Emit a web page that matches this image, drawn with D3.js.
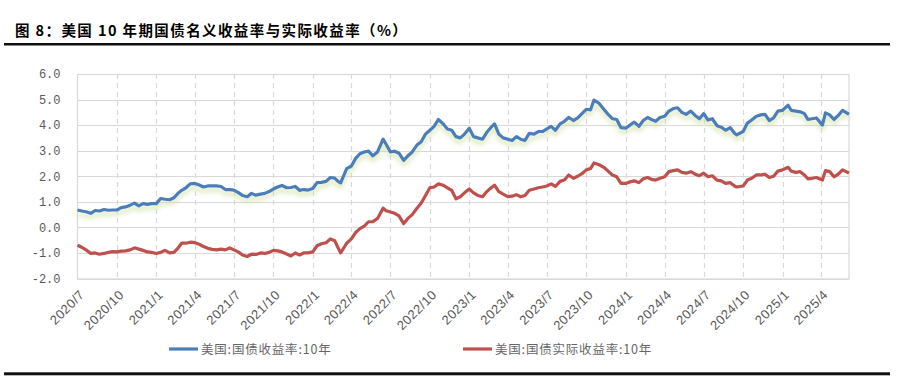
<!DOCTYPE html>
<html>
<head>
<meta charset="utf-8">
<title>美国10年期国债名义收益率与实际收益率</title>
<script src="https://cdn.jsdelivr.net/npm/d3@7"></script>
<style>
  body { margin: 0; background: #fff; }
  svg { display: block; }
</style>
</head>
<body>
<svg width="898" height="380"></svg>
<script>
// 日期（约每10天一个点）
var dates = [
  "2020-07-01","2020-07-11","2020-07-21","2020-08-01","2020-08-11","2020-08-21","2020-09-01","2020-09-11","2020-09-21",
  "2020-10-01","2020-10-11","2020-10-21","2020-11-01","2020-11-11","2020-11-21","2020-12-01","2020-12-11","2020-12-21",
  "2021-01-01","2021-01-11","2021-01-21","2021-02-01","2021-02-11","2021-02-21","2021-03-01","2021-03-11","2021-03-21",
  "2021-04-01","2021-04-11","2021-04-21","2021-05-01","2021-05-11","2021-05-21","2021-06-01","2021-06-11","2021-06-21",
  "2021-07-01","2021-07-11","2021-07-21","2021-08-01","2021-08-11","2021-08-21","2021-09-01","2021-09-11","2021-09-21",
  "2021-10-01","2021-10-11","2021-10-21","2021-11-01","2021-11-11","2021-11-21","2021-12-01","2021-12-11","2021-12-21",
  "2022-01-01","2022-01-11","2022-01-21","2022-02-01","2022-02-11","2022-02-21","2022-03-01","2022-03-07","2022-03-21",
  "2022-04-01","2022-04-11","2022-04-21","2022-05-01","2022-05-11","2022-05-21","2022-06-01","2022-06-14","2022-06-21",
  "2022-07-01","2022-07-11","2022-07-21","2022-08-01","2022-08-11","2022-08-21","2022-09-01","2022-09-11","2022-09-21",
  "2022-10-01","2022-10-11","2022-10-21","2022-11-01","2022-11-11","2022-11-21","2022-12-01","2022-12-11","2022-12-21",
  "2023-01-01","2023-01-11","2023-01-21","2023-02-01","2023-02-11","2023-02-21","2023-03-01","2023-03-11","2023-03-21",
  "2023-04-01","2023-04-11","2023-04-21","2023-05-01","2023-05-11","2023-05-21","2023-06-01","2023-06-11","2023-06-21",
  "2023-07-01","2023-07-11","2023-07-21","2023-08-01","2023-08-11","2023-08-21","2023-09-01","2023-09-11","2023-09-21",
  "2023-10-01","2023-10-11","2023-10-19","2023-10-31","2023-11-11","2023-11-21","2023-12-01","2023-12-11","2023-12-21",
  "2024-01-01","2024-01-11","2024-01-21","2024-02-01","2024-02-11","2024-02-21","2024-03-01","2024-03-11","2024-03-21",
  "2024-04-01","2024-04-11","2024-04-21","2024-05-01","2024-05-11","2024-05-21","2024-06-01","2024-06-11","2024-06-21",
  "2024-07-01","2024-07-11","2024-07-21","2024-08-01","2024-08-11","2024-08-21","2024-09-01","2024-09-11","2024-09-16",
  "2024-10-01","2024-10-11","2024-10-21","2024-11-01","2024-11-11","2024-11-21","2024-12-01","2024-12-11","2024-12-21",
  "2025-01-01","2025-01-14","2025-01-21","2025-02-01","2025-02-11","2025-02-21","2025-03-01","2025-03-11","2025-03-21",
  "2025-04-04","2025-04-11","2025-04-21","2025-05-01","2025-05-11","2025-05-21","2025-06-05"
];

// 美国:国债收益率:10年
var nominal = [
  0.68,0.64,0.61,0.55,0.66,0.64,0.70,0.67,0.68,
  0.68,0.77,0.80,0.87,0.95,0.84,0.93,0.90,0.93,
  0.93,1.13,1.10,1.08,1.16,1.34,1.45,1.55,1.70,
  1.72,1.66,1.58,1.62,1.62,1.62,1.60,1.48,1.48,
  1.46,1.36,1.25,1.20,1.33,1.26,1.30,1.33,1.40,
  1.50,1.58,1.64,1.55,1.56,1.60,1.45,1.48,1.46,
  1.52,1.75,1.76,1.80,1.95,1.93,1.80,1.74,2.30,
  2.40,2.70,2.88,2.95,2.98,2.80,2.95,3.45,3.25,
  2.95,2.98,2.90,2.62,2.80,2.95,3.22,3.35,3.65,
  3.80,3.95,4.22,4.05,3.85,3.80,3.55,3.50,3.65,
  3.88,3.55,3.50,3.45,3.72,3.92,4.05,3.65,3.50,
  3.45,3.40,3.55,3.45,3.40,3.68,3.65,3.75,3.75,
  3.85,3.95,3.80,4.05,4.15,4.30,4.18,4.28,4.45,
  4.62,4.60,4.98,4.85,4.62,4.42,4.25,4.22,3.90,
  3.88,4.00,4.12,3.95,4.18,4.30,4.22,4.15,4.30,
  4.35,4.55,4.65,4.68,4.50,4.42,4.55,4.38,4.25,
  4.45,4.20,4.25,3.98,3.92,3.80,3.90,3.68,3.62,
  3.75,4.08,4.20,4.35,4.40,4.42,4.18,4.28,4.55,
  4.58,4.78,4.58,4.55,4.52,4.45,4.22,4.25,4.28,
  4.00,4.48,4.40,4.22,4.38,4.58,4.42
];

// 美国:国债实际收益率:10年
var real = [
  -0.70,-0.78,-0.88,-1.02,-1.00,-1.05,-1.02,-0.98,-0.95,
  -0.96,-0.93,-0.92,-0.88,-0.80,-0.85,-0.90,-0.96,-0.98,
  -1.02,-0.98,-0.90,-1.00,-0.98,-0.80,-0.62,-0.62,-0.58,
  -0.60,-0.66,-0.75,-0.82,-0.86,-0.88,-0.85,-0.88,-0.80,
  -0.88,-0.96,-1.08,-1.14,-1.05,-1.06,-1.00,-1.02,-0.98,
  -0.90,-0.92,-0.96,-1.04,-1.12,-1.00,-1.08,-1.00,-1.00,
  -0.96,-0.72,-0.64,-0.60,-0.45,-0.52,-0.80,-1.00,-0.62,
  -0.45,-0.20,-0.05,0.05,0.22,0.22,0.35,0.75,0.65,
  0.60,0.55,0.45,0.15,0.35,0.50,0.75,0.95,1.25,
  1.55,1.58,1.70,1.65,1.55,1.45,1.12,1.20,1.35,
  1.50,1.35,1.25,1.20,1.40,1.55,1.65,1.40,1.30,
  1.20,1.22,1.28,1.20,1.25,1.45,1.50,1.55,1.58,
  1.62,1.70,1.60,1.80,1.85,2.05,1.92,2.00,2.10,
  2.25,2.30,2.52,2.45,2.35,2.20,2.05,1.98,1.72,
  1.72,1.78,1.82,1.75,1.90,1.95,1.88,1.85,1.92,
  1.98,2.18,2.22,2.25,2.15,2.12,2.18,2.08,2.02,
  2.12,1.98,2.02,1.85,1.82,1.72,1.75,1.62,1.58,
  1.62,1.85,1.92,2.05,2.05,2.08,1.95,2.00,2.20,
  2.25,2.35,2.20,2.15,2.18,2.05,1.90,1.92,1.95,
  1.85,2.22,2.18,1.98,2.08,2.25,2.12
];

var yTicks = [-2, -1, 0, 1, 2, 3, 4, 5, 6];
var xTickLabels = ["2020/7","2020/10","2021/1","2021/4","2021/7","2021/10","2022/1","2022/4","2022/7","2022/10",
  "2023/1","2023/4","2023/7","2023/10","2024/1","2024/4","2024/7","2024/10","2025/1","2025/4"];
var seriesNames = ["美国:国债收益率:10年", "美国:国债实际收益率:10年"];
var colors = ["#4a7ebb", "#c0504d"];

var svg = d3.select("svg");
var margin = {left: 77.5, right: 49, top: 74, bottom: 101.5};
var W = 898, H = 380;

var parse = d3.timeParse("%Y-%m-%d");
var parseTick = d3.timeParse("%Y/%m");
var x = d3.scaleTime()
  .domain([parse("2020-07-01"), parse("2025-06-05")])
  .range([margin.left, W - margin.right]);
var y = d3.scaleLinear().domain([-2, 6]).range([H - margin.bottom, margin.top]);

var font = "'Liberation Sans','Noto Sans CJK SC',sans-serif";
var cjk = "'Noto Sans CJK SC','Liberation Sans',sans-serif";

// 标题
svg.append("text")
  .attr("x", 15).attr("y", 36)
  .attr("font-family", cjk)
  .attr("font-size", 14.5)
  .attr("font-weight", "bold")
  .attr("letter-spacing", 1.4)
  .attr("fill", "#000")
  .text("图 8：美国 10 年期国债名义收益率与实际收益率（%）");
svg.append("rect").attr("x", 4).attr("y", 43).attr("width", 886).attr("height", 2.5).attr("fill", "#111");
svg.append("rect").attr("x", 4).attr("y", 372.3).attr("width", 886).attr("height", 3).attr("fill", "#111");

// 滤镜：名义收益率线下方的浅绿色光晕
var defs = svg.append("defs");
var f = defs.append("filter").attr("id", "glow")
  .attr("x", "-5%").attr("y", "-20%").attr("width", "110%").attr("height", "160%");
f.append("feGaussianBlur").attr("in", "SourceAlpha").attr("stdDeviation", 2.6).attr("result", "b");
f.append("feOffset").attr("in", "b").attr("dy", 3.5).attr("result", "o");
f.append("feFlood").attr("flood-color", "#c9dd9a").attr("flood-opacity", 0.8).attr("result", "c");
f.append("feComposite").attr("in", "c").attr("in2", "o").attr("operator", "in").attr("result", "s");
var m = f.append("feMerge");
m.append("feMergeNode").attr("in", "s");
m.append("feMergeNode").attr("in", "SourceGraphic");

// 网格
var g = svg.append("g");
g.selectAll(".hg").data(yTicks).enter().append("line")
  .attr("x1", margin.left).attr("x2", W - margin.right)
  .attr("y1", function(d){ return Math.round(y(d)) + 0.5; })
  .attr("y2", function(d){ return Math.round(y(d)) + 0.5; })
  .attr("stroke", "#d9d9d9").attr("stroke-width", 1.2);

var tickDates = xTickLabels.map(function(s){ return parseTick(s); });
g.selectAll(".vg").data(tickDates.slice(1)).enter().append("line")
  .attr("x1", function(d){ return Math.round(x(d)) + 0.5; })
  .attr("x2", function(d){ return Math.round(x(d)) + 0.5; })
  .attr("y1", margin.top).attr("y2", H - margin.bottom)
  .attr("stroke", "#d9d9d9").attr("stroke-dasharray", "5,4").attr("stroke-width", 1.2);

// 边框
g.append("rect")
  .attr("x", margin.left).attr("y", margin.top + 0.5)
  .attr("width", W - margin.right - margin.left)
  .attr("height", H - margin.bottom - margin.top)
  .attr("fill", "none").attr("stroke", "#d9d9d9").attr("stroke-width", 1.2);

// Y轴
var yAxis = d3.axisLeft(y).tickValues(yTicks).tickSize(0).tickPadding(17)
  .tickFormat(function(d){ return d3.format(".1f")(d).replace("−", "-"); });
svg.append("g").attr("transform", "translate(" + margin.left + ",0)").call(yAxis)
  .call(function(s){ s.select(".domain").remove(); })
  .selectAll("text")
  .attr("font-family", "'Liberation Mono','DejaVu Sans Mono',monospace")
  .attr("font-size", 12).attr("fill", "#595959");

// X轴
var xAxis = d3.axisBottom(x).tickValues(tickDates).tickSize(0)
  .tickFormat(function(d, i){ return xTickLabels[i]; });
var xg = svg.append("g").attr("transform", "translate(0," + (H - margin.bottom) + ")").call(xAxis);
xg.select(".domain").remove();
xg.selectAll("text")
  .attr("font-family", font).attr("font-size", 13).attr("fill", "#595959")
  .attr("letter-spacing", 0.4)
  .attr("text-anchor", "end")
  .attr("dy", 0)
  .attr("transform", "translate(5,15) rotate(-45)");

// 折线
var line = d3.line()
  .x(function(d){ return x(d.date); })
  .y(function(d){ return y(d.v); });

var nomData = dates.map(function(s, i){ return {date: parse(s), v: nominal[i]}; });
var realData = dates.map(function(s, i){ return {date: parse(s), v: real[i]}; });

svg.append("path").datum(realData)
  .attr("d", line).attr("fill", "none")
  .attr("stroke", colors[1]).attr("stroke-width", 3.2).attr("stroke-linejoin", "round");
svg.append("path").datum(nomData)
  .attr("d", line).attr("fill", "none")
  .attr("stroke", colors[0]).attr("stroke-width", 3.2).attr("stroke-linejoin", "round")
  .attr("filter", "url(#glow)");

// 图例
var legendX = [169, 463];
var lg = svg.selectAll(".lg").data(seriesNames).enter().append("g")
  .attr("transform", function(d, i){ return "translate(" + legendX[i] + ",349)"; });
lg.append("line").attr("x1", 0).attr("x2", 29).attr("y1", 0).attr("y2", 0)
  .attr("stroke", function(d, i){ return colors[i]; }).attr("stroke-width", 3.2);
lg.append("text").attr("x", 32).attr("y", 4.5)
  .attr("font-family", cjk).attr("font-size", 12.5).attr("fill", "#666")
  .attr("letter-spacing", 0.8)
  .text(function(d){ return d; });
</script>
</body>
</html>
